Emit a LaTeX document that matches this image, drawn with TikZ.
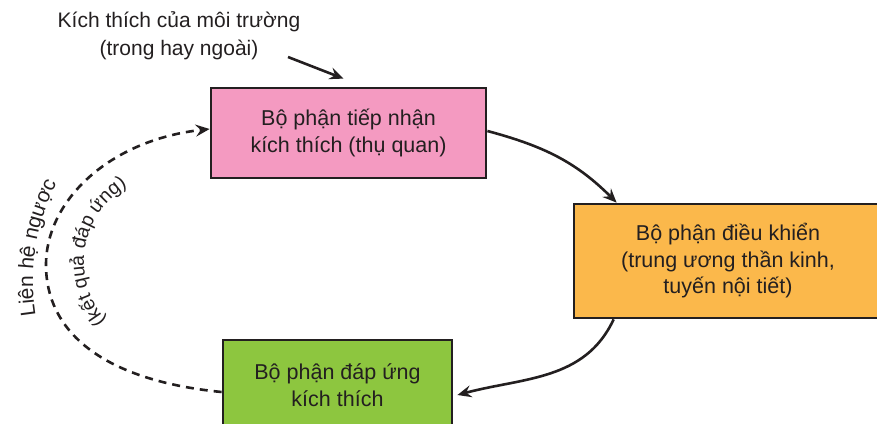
\documentclass[tikz,border=0pt]{standalone}
\usepackage{fontspec}
\setmainfont{Liberation Sans}
\usetikzlibrary{arrows.meta,decorations.text,calc}
\definecolor{ink}{HTML}{231F20}
\definecolor{pinkbox}{HTML}{F49AC1}
\definecolor{orangebox}{HTML}{FBB84B}
\definecolor{greenbox}{HTML}{8DC63F}
\tikzset{
  organ/.style={draw=ink, line width=2.8pt, align=center, text=ink, inner sep=0pt,
    font=\fontsize{21.5}{26.5}\selectfont},
  flow/.style={draw=ink, line width=2.6pt, -{Stealth[length=14pt,width=12pt,inset=5pt]}},
  feedback/.style={flow, dash pattern=on 8pt off 6pt},
  lbl/.style={text=ink, align=center, font=\fontsize{21}{28}\selectfont}
}
\begin{document}
\begin{tikzpicture}[x=1pt,y=1pt]
\useasboundingbox (0,0) rectangle (877,-423);
\node[organ, fill=pinkbox, minimum width=275pt, minimum height=90pt] (rec) at (348.5,-133)
  {Bộ phận tiếp nhận\\kích thích (thụ quan)};
\node[organ, fill=orangebox, minimum width=308pt, minimum height=114pt] (ctl) at (728,-261)
  {Bộ phận điều khiển\\(trung ương thần kinh,\\tuyến nội tiết)};
\node[organ, fill=greenbox, minimum width=229pt, minimum height=90pt] (resp) at (337.5,-385)
  {Bộ phận đáp ứng\\kích thích};
\node[lbl] (stim) at (179,-36) {Kích thích của môi trường\\(trong hay ngoài)};
\coordinate (stimstart) at (288,-57);
\coordinate (fbl) at (46,-265);
\draw[flow] (stimstart) -- ([xshift=-5pt,yshift=8pt]rec.north);
\draw[flow] ([yshift=2pt]rec.east) to[out=-15,in=135] ([xshift=44pt]ctl.north west);
\draw[flow] ([xshift=41pt]ctl.south west) to[out=-115,in=15] ([xshift=4pt,yshift=-10pt]resp.east);
\draw[feedback] ([yshift=-7pt]resp.west) .. controls (100,-380) and (46,-330) .. (fbl)
  .. controls (46,-200) and (110,-140) .. ([yshift=4pt]rec.west);
\path[decorate, decoration={text along path, text align=center,
  text={|\fontsize{21}{25}\selectfont\color{ink}|Liên hệ ngược}}]
  ([shift={(248,-281)}]190:215) arc[start angle=190, end angle=152, radius=215];
\path[decorate, decoration={text along path, text align=center,
  text={|\fontsize{19.5}{24}\selectfont\color{ink}|(kết quả đáp ứng)}}]
  ([shift={(172,-262)}]232:88) arc[start angle=232, end angle=110, radius=88];
\end{tikzpicture}
\end{document}
